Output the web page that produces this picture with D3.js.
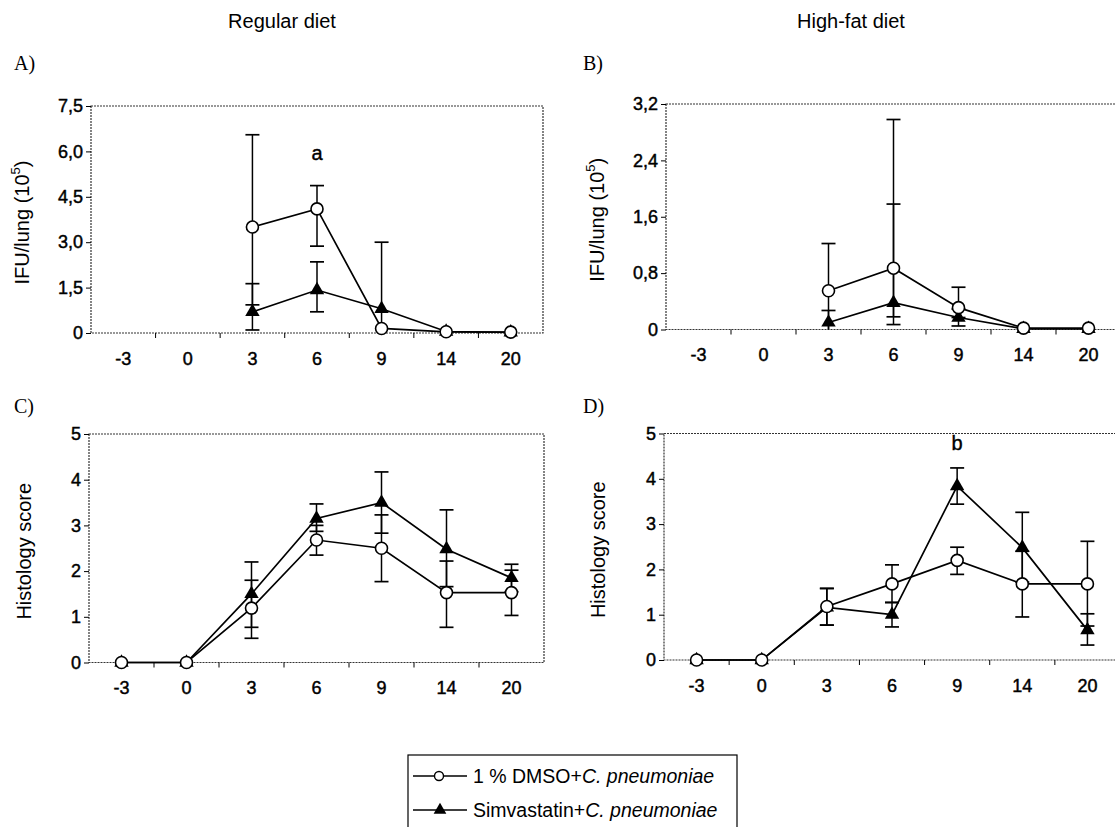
<!DOCTYPE html>
<html>
<head>
<meta charset="utf-8">
<script src="https://cdn.jsdelivr.net/npm/d3@7"></script>
<style>
  body { margin: 0; background: #fff; }
  svg { display: block; }
  text { font-family: "Liberation Sans", Arial, sans-serif; fill: #000; }
</style>
</head>
<body>
<svg id="fig" width="1115" height="827"></svg>
<script>
// days after infection (x categories)
const days = ["-3", "0", "3", "6", "9", "14", "20"];

// A) IFU/lung, regular diet
const dmsoA   = [null, null, 3.5, 4.1, 0.15, 0.04, 0.03];
const dmsoAlo = [null, null, 0.93, 2.87, null, null, null];
const dmsoAhi = [null, null, 6.55, 4.87, null, null, null];
const simvA   = [null, null, 0.7, 1.42, 0.8, 0.05, 0.02];
const simvAlo = [null, null, 0.1, 0.7, 0, null, null];
const simvAhi = [null, null, 1.63, 2.35, 3.0, null, null];

// B) IFU/lung, high-fat diet
const dmsoB   = [null, null, 0.55, 0.87, 0.31, 0.02, 0.02];
const dmsoBlo = [null, null, 0, 0.07, 0.17, null, null];
const dmsoBhi = [null, null, 1.22, 2.98, 0.6, null, null];
const simvB   = [null, null, 0.1, 0.38, 0.17, 0.01, 0.01];
const simvBlo = [null, null, 0, 0.18, 0.05, null, null];
const simvBhi = [null, null, 0.27, 1.78, 0.29, null, null];

// C) histology, regular diet
const dmsoC   = [0, 0, 1.19, 2.68, 2.5, 1.53, 1.53];
const dmsoClo = [null, null, 0.53, 2.35, 1.77, 0.77, 1.03];
const dmsoChi = [null, null, 1.8, 3.0, 3.23, 2.22, 2.02];
const simvC   = [0, 0, 1.5, 3.15, 3.5, 2.48, 1.85];
const simvClo = [null, null, 0.77, 2.87, 2.83, 1.66, 1.55];
const simvChi = [null, null, 2.2, 3.47, 4.17, 3.34, 2.15];

// D) histology, high-fat diet
const dmsoD   = [0, 0, 1.18, 1.68, 2.2, 1.68, 1.68];
const dmsoDlo = [null, null, 0.77, 1.27, 1.89, 0.95, 0.75];
const dmsoDhi = [null, null, 1.58, 2.1, 2.49, 2.4, 2.62];
const simvD   = [0, 0, 1.16, 1.0, 3.84, 2.48, 0.66];
const simvDlo = [null, null, 0.77, 0.73, 3.44, 1.72, 0.33];
const simvDhi = [null, null, 1.58, 1.27, 4.24, 3.26, 1.02];

// y ticks
const ifuTicksA  = [0, 1.5, 3, 4.5, 6, 7.5];
const ifuLabelsA = ["0", "1,5", "3,0", "4,5", "6,0", "7,5"];
const ifuTicksB  = [0, 0.8, 1.6, 2.4, 3.2];
const ifuLabelsB = ["0", "0,8", "1,6", "2,4", "3,2"];
const histTicks  = [0, 1, 2, 3, 4, 5];
const histLabels = ["0", "1", "2", "3", "4", "5"];

const svg = d3.select("#fig");

function drawPanel(p) {
  const x = d3.scaleBand().domain(days).range([p.left, p.right]).padding(0);
  const cx = d => x(d) + x.bandwidth() / 2;
  const y = d3.scaleLinear().domain([0, p.ticks[p.ticks.length - 1]]).range([p.bottom, p.top]);

  const g = svg.append("g");

  // frame (dotted, like the scan)
  g.append("rect")
    .attr("x", p.left).attr("y", p.top)
    .attr("width", p.right - p.left).attr("height", p.bottom - p.top)
    .attr("fill", "none").attr("stroke", "#333")
    .attr("stroke-width", 1.2).attr("stroke-dasharray", "2,1");

  // y axis
  const ya = g.append("g")
    .attr("transform", `translate(${p.left},0)`)
    .call(d3.axisLeft(y).tickValues(p.ticks)
      .tickFormat((d, i) => p.labels[i]).tickSizeInner(5).tickSizeOuter(0).tickPadding(3));
  ya.select(".domain").remove();
  ya.selectAll("text").style("font-size", "18px")
    .style("font-family", "Liberation Sans, Arial, sans-serif")
    .attr("stroke", "#000").attr("stroke-width", 0.45);

  // x axis labels
  const xa = g.append("g")
    .attr("transform", `translate(0,${p.bottom})`)
    .call(d3.axisBottom(x).tickSize(0).tickPadding(19));
  xa.select(".domain").remove();
  xa.selectAll("text").style("font-size", "18px")
    .style("font-family", "Liberation Sans, Arial, sans-serif")
    .attr("stroke", "#000").attr("stroke-width", 0.45);

  // x tick marks at category boundaries
  const bounds = days.slice(1).map(d => x(d));
  g.selectAll(".bt").data(bounds).enter().append("line")
    .attr("x1", d => d).attr("x2", d => d)
    .attr("y1", p.bottom).attr("y2", p.bottom + 5)
    .attr("stroke", "#000").attr("stroke-width", 1);

  // y axis title
  const yt = g.append("text")
    .attr("transform", `translate(${p.labelX},${(p.top + p.bottom) / 2 + 3}) rotate(-90)`)
    .attr("text-anchor", "middle").attr("dominant-baseline", "middle")
    .style("font-size", "20px");
  if (p.ifu) {
    yt.append("tspan").text("IFU/lung (10");
    yt.append("tspan").text("5").attr("font-size", "13px").attr("dy", "-7");
    yt.append("tspan").text(")").attr("dy", "7");
  } else {
    yt.text("Histology score");
  }

  // series: triangles first, circles on top
  const series = [
    { v: p.simv, lo: p.simvLo, hi: p.simvHi, kind: "tri" },
    { v: p.dmso, lo: p.dmsoLo, hi: p.dmsoHi, kind: "circ" }
  ];

  // error bars
  series.forEach(s => {
    days.forEach((d, i) => {
      if (s.v[i] === null) return;
      const xx = cx(d);
      [s.hi[i], s.lo[i]].forEach(e => {
        if (e === null || e === undefined) return;
        g.append("line").attr("x1", xx).attr("x2", xx)
          .attr("y1", y(s.v[i])).attr("y2", y(e))
          .attr("stroke", "#000").attr("stroke-width", 1.5);
        if (e > 0) {
          g.append("line").attr("x1", xx - 7).attr("x2", xx + 7)
            .attr("y1", y(e)).attr("y2", y(e))
            .attr("stroke", "#000").attr("stroke-width", 1.7);
        }
      });
    });
  });

  // lines
  series.forEach(s => {
    const pts = days.map((d, i) => [d, s.v[i]]).filter(q => q[1] !== null);
    g.append("path")
      .attr("d", d3.line().x(q => cx(q[0])).y(q => y(q[1]))(pts))
      .attr("fill", "none").attr("stroke", "#000").attr("stroke-width", 1.7);
  });

  // markers
  series.forEach(s => {
    days.forEach((d, i) => {
      if (s.v[i] === null) return;
      if (s.kind === "tri") {
        g.append("path")
          .attr("d", d3.symbol(d3.symbolTriangle, 90)())
          .attr("transform", `translate(${cx(d)},${y(s.v[i])})`)
          .attr("fill", "#000");
      } else {
        g.append("circle").attr("cx", cx(d)).attr("cy", y(s.v[i])).attr("r", 6)
          .attr("fill", "#fff").attr("stroke", "#000").attr("stroke-width", 1.6);
      }
    });
  });

  // significance letter
  if (p.note) {
    g.append("text").attr("x", cx(p.note.day)).attr("y", p.note.y)
      .attr("text-anchor", "middle").style("font-size", "20px")
      .attr("stroke", "#000").attr("stroke-width", 0.4).text(p.note.t);
  }

  // panel letter
  svg.append("text").attr("x", p.letterX).attr("y", p.letterY)
    .style("font-family", "Liberation Serif, Times New Roman, serif")
    .style("font-size", "20px").text(p.letter);
}

const panels = [
  { letter: "A)", letterX: 14, letterY: 70, left: 91, right: 543, top: 106, bottom: 333,
    ticks: ifuTicksA, labels: ifuLabelsA, ifu: true, labelX: 24,
    dmso: dmsoA, dmsoLo: dmsoAlo, dmsoHi: dmsoAhi, simv: simvA, simvLo: simvAlo, simvHi: simvAhi,
    note: { day: "6", y: 160, t: "a" } },
  { letter: "B)", letterX: 583, letterY: 70, left: 666, right: 1121, top: 104, bottom: 329.5,
    ticks: ifuTicksB, labels: ifuLabelsB, ifu: true, labelX: 599,
    dmso: dmsoB, dmsoLo: dmsoBlo, dmsoHi: dmsoBhi, simv: simvB, simvLo: simvBlo, simvHi: simvBhi },
  { letter: "C)", letterX: 14, letterY: 413, left: 89, right: 544, top: 434, bottom: 662.5,
    ticks: histTicks, labels: histLabels, ifu: false, labelX: 26,
    dmso: dmsoC, dmsoLo: dmsoClo, dmsoHi: dmsoChi, simv: simvC, simvLo: simvClo, simvHi: simvChi },
  { letter: "D)", letterX: 583, letterY: 413, left: 664, right: 1120, top: 433.5, bottom: 660,
    ticks: histTicks, labels: histLabels, ifu: false, labelX: 600,
    dmso: dmsoD, dmsoLo: dmsoDlo, dmsoHi: dmsoDhi, simv: simvD, simvLo: simvDlo, simvHi: simvDhi,
    note: { day: "9", y: 450, t: "b" } }
];

panels.forEach(drawPanel);

// column titles
svg.append("text").attr("x", 282).attr("y", 28).attr("text-anchor", "middle")
  .style("font-size", "20px").text("Regular diet");
svg.append("text").attr("x", 851).attr("y", 28).attr("text-anchor", "middle")
  .style("font-size", "20px").text("High-fat diet");

// legend
const lg = svg.append("g");
lg.append("rect").attr("x", 408).attr("y", 755).attr("width", 329).attr("height", 100)
  .attr("fill", "none").attr("stroke", "#000").attr("stroke-width", 1.2);
const legendRows = [
  { y: 776, kind: "circ", label: "1 % DMSO+" },
  { y: 810, kind: "tri", label: "Simvastatin+" }
];
legendRows.forEach(r => {
  lg.append("line").attr("x1", 413).attr("x2", 467).attr("y1", r.y).attr("y2", r.y)
    .attr("stroke", "#000").attr("stroke-width", 1.6);
  if (r.kind === "circ") {
    lg.append("circle").attr("cx", 439).attr("cy", r.y).attr("r", 4.5)
      .attr("fill", "#fff").attr("stroke", "#000").attr("stroke-width", 1.4);
  } else {
    lg.append("path").attr("d", d3.symbol(d3.symbolTriangle, 70)())
      .attr("transform", `translate(440,${r.y})`).attr("fill", "#000");
  }
  const t = lg.append("text").attr("x", 473).attr("y", r.y + 7).style("font-size", "19.5px");
  t.append("tspan").text(r.label);
  t.append("tspan").style("font-style", "italic").text("C. pneumoniae");
});
</script>
</body>
</html>
